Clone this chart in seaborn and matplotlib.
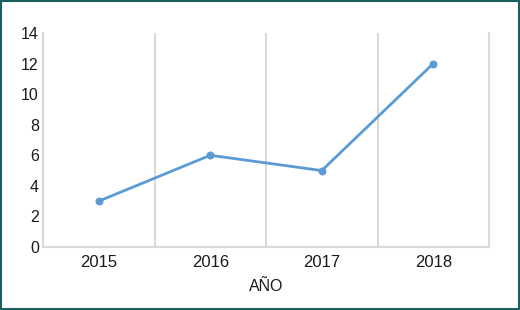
import matplotlib
matplotlib.use("Agg")
import matplotlib.pyplot as plt
import matplotlib.patches as patches
import seaborn as sns
import pandas as pd

# Datos
anios = ["2015", "2016", "2017", "2018"]
valores = [3, 6, 5, 12]

df = pd.DataFrame({"anio": anios, "valor": valores})
df["pos"] = range(len(anios))

sns.set_style("white")
plt.rcParams["font.family"] = ["Liberation Sans", "DejaVu Sans"]

fig = plt.figure(figsize=(5.2, 3.1), dpi=100)
ax = fig.add_axes([43 / 520, 63 / 310, 446 / 520, 214 / 310])

sns.lineplot(data=df, x="pos", y="valor", ax=ax, color="#5B9BD5",
             linewidth=2, marker="o", markersize=5,
             markeredgecolor="#5B9BD5")

gris = "#D9D9D9"
ax.set_xlim(-0.5, len(anios) - 0.5)
ax.set_ylim(0, 14)
ax.set_yticks(range(0, 15, 2))
ax.set_xticks(range(len(anios)))
ax.set_xticklabels(anios)
ax.set_xticks([i + 0.5 for i in range(len(anios) - 1)], minor=True)
ax.grid(False)
ax.grid(True, which="minor", axis="x", color=gris, linewidth=1.5)
ax.tick_params(axis="both", which="both", length=0, labelcolor="#1a1a1a")
ax.tick_params(axis="y", labelsize=11.5, pad=3)
ax.tick_params(axis="x", labelsize=12, pad=6)

for lado in ["left", "right", "bottom"]:
    ax.spines[lado].set_color(gris)
    ax.spines[lado].set_linewidth(1.5)
ax.spines["top"].set_visible(False)

ax.set_xlabel("AÑO", fontsize=11.5, color="#1a1a1a", labelpad=6)
ax.set_ylabel("")

# Borde de la figura
borde = patches.Rectangle((0.0015, 0.0025), 0.997, 0.995, transform=fig.transFigure,
                          fill=False, edgecolor="#1B5E5E", linewidth=1.5)
fig.patches.append(borde)

fig.savefig("out.png", dpi=100)
